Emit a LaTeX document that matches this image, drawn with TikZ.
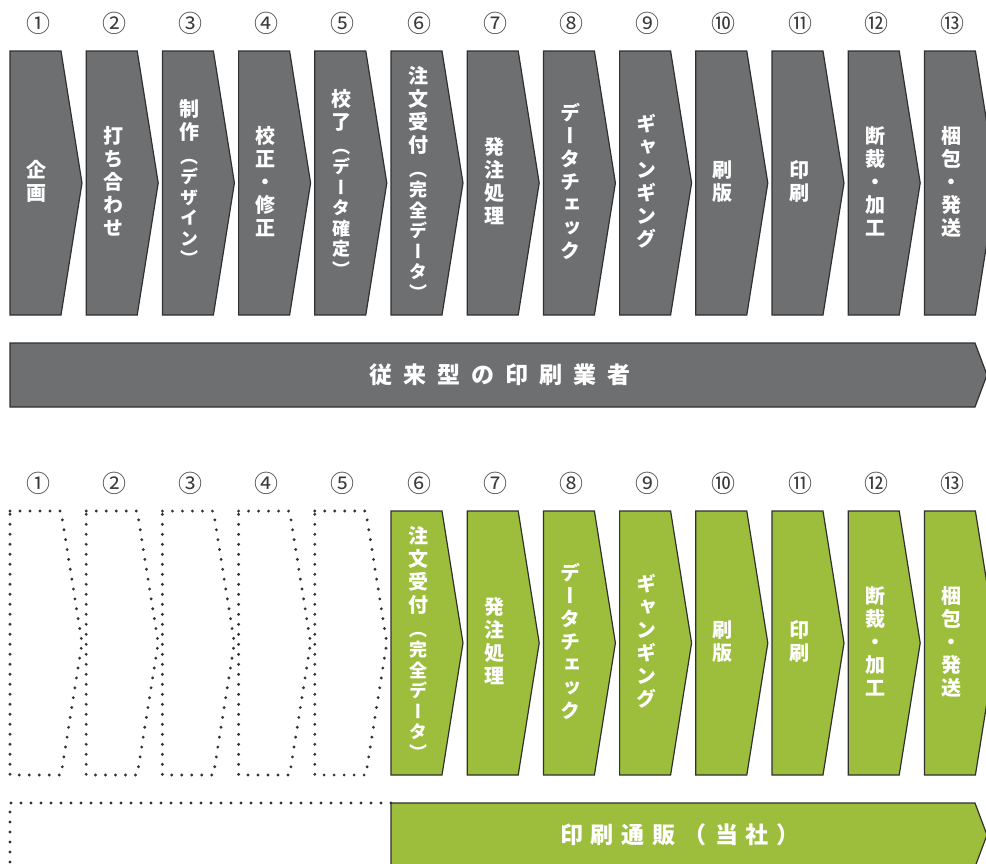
\documentclass[tikz,border=0pt]{standalone}
\usepackage{fontspec}
\setmainfont{Noto Sans CJK JP}
\newfontfamily\tatefont[RawFeature=+vert]{Noto Sans CJK JP}
\definecolor{procgray}{HTML}{6E6F71}
\definecolor{procgreen}{HTML}{9CBE3C}
\definecolor{edge}{HTML}{303030}
\definecolor{dotc}{HTML}{333333}
\definecolor{numc}{HTML}{3A3A3A}
\makeatletter
\newcommand\tatechars[1]{\edef\tc@list{#1}%
  \expandafter\@tfor\expandafter\tc@ch\expandafter:\expandafter=\tc@list\do{\hbox to 22pt{\hss\tc@ch\hss}}}
\newcommand\yokochars[2]{\edef\tc@list{#2}%
  \expandafter\@tfor\expandafter\tc@ch\expandafter:\expandafter=\tc@list\do{\tc@ch\kern#1}\unkern}
\makeatother
\newcommand\tatelabel[2]{\vbox{\fontsize{20}{23}\selectfont\tatechars{#1}\vskip3pt
  \fontsize{18}{20.5}\selectfont\tatechars{#2}}}

\begin{document}
\begin{tikzpicture}[x=1pt,y=-1pt,
    chev/.style={draw=edge, line width=1.2pt, line join=miter},
    dotchev/.style={draw=dotc, line width=3.2pt, line cap=round, dash pattern=on 0pt off 10pt},
    num/.style={font=\fontsize{24}{24}\selectfont, text=numc, inner sep=0pt},
    tate/.style={font=\tatefont\bfseries, text=white, inner sep=0pt},
    bartext/.style={font=\bfseries\fontsize{23}{23}\selectfont, text=white, inner sep=0pt}]
    \useasboundingbox (0,0) rectangle (986,863);
    \clip (0,0) rectangle (986,863);
    \foreach \i/\n/\main/\sub in {1/①/企画/, 2/②/打ち合わせ/, 3/③/制作/（デザイン）, 4/④/校正・修正/,
        5/⑤/校了/（データ確定）, 6/⑥/注文受付/（完全データ）, 7/⑦/発注処理/, 8/⑧/データチェック/,
        9/⑨/ギャンギング/, 10/⑩/刷版/, 11/⑪/印刷/, 12/⑫/断裁・加工/, 13/⑬/梱包・発送/}{
        \pgfmathsetmacro\x{10+(\i-1)*76.2}
        \filldraw[chev, fill=procgray] (\x,51) -- ++(51,0) -- ++(21,132) -- ++(-21,132) -- ++(-51,0) -- cycle;
        \node[num] (na\i) at (\x+28,23) {\n};
        \node[tate] (ta\i) at (\x+27,183) {\tatelabel{\main}{\sub}};
        \node[num] (nb\i) at (\x+28,483) {\n};
        \ifnum\i<6
            \draw[dotchev] (\x,511) -- ++(51,0) -- ++(21,132) -- ++(-21,132) -- ++(-51,0) -- cycle;
        \else
            \filldraw[chev, fill=procgreen] (\x,511) -- ++(51,0) -- ++(21,132) -- ++(-21,132) -- ++(-51,0) -- cycle;
            \node[tate] (tb\i) at (\x+27,643) {\tatelabel{\main}{\sub}};
        \fi
    }
    \filldraw[chev, fill=procgray] (10,343) -- (975,343) -- (987,375) -- (975,407) -- (10,407) -- cycle;
    \node[bartext] (trad) at (500,375) {\yokochars{11pt}{従来型の印刷業者}};
    \draw[dotchev] (391,803) -- (10,803) -- (10,880);
    \filldraw[chev, fill=procgreen] (391,803) -- (975,803) -- (987,835) -- (975,867) -- (391,867) -- cycle;
    \node[bartext] (ours) at (680,835) {\yokochars{8pt}{印刷通販（当社）}};
\end{tikzpicture}
\end{document}
